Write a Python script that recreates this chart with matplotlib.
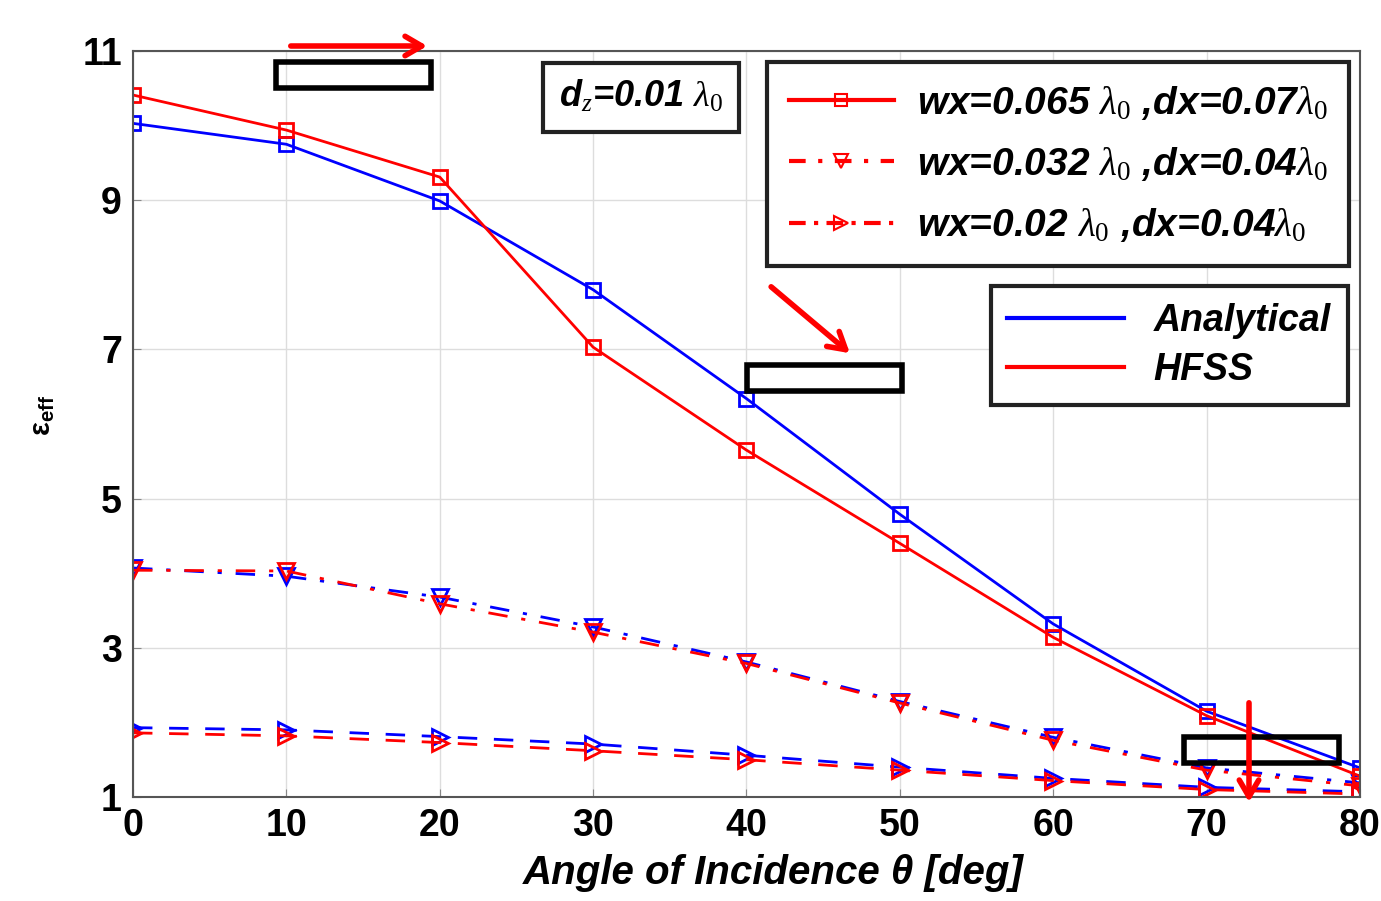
import numpy as np
import matplotlib
matplotlib.use("Agg")
import matplotlib.pyplot as plt
from matplotlib.lines import Line2D
from matplotlib.patches import Rectangle, FancyArrowPatch

plt.rcParams['font.family'] = ['Liberation Sans', 'DejaVu Sans']
plt.rcParams['mathtext.fontset'] = 'custom'
plt.rcParams['mathtext.rm'] = 'Liberation Serif'
plt.rcParams['mathtext.it'] = 'Liberation Serif:italic'
plt.rcParams['mathtext.bf'] = 'Liberation Sans:bold'

angle = [0, 10, 20, 30, 40, 50, 60, 70, 80]

# wx=0.065, dx=0.07 (squares, solid)
ana_sq = [10.03, 9.75, 8.99, 7.80, 6.34, 4.79, 3.32, 2.15, 1.39]
hfss_sq = [10.41, 9.94, 9.31, 7.03, 5.65, 4.40, 3.14, 2.09, 1.28]
# wx=0.032, dx=0.04 (down triangles, dash-dot)
ana_tri = [4.07, 3.96, 3.68, 3.28, 2.81, 2.28, 1.80, 1.39, 1.19]
hfss_tri = [4.04, 4.03, 3.59, 3.21, 2.79, 2.26, 1.76, 1.36, 1.15]
# wx=0.02, dx=0.04 (right triangles, dashed)
ana_rt = [1.93, 1.90, 1.81, 1.71, 1.56, 1.40, 1.25, 1.13, 1.07]
hfss_rt = [1.86, 1.82, 1.73, 1.62, 1.50, 1.36, 1.22, 1.10, 1.04]

lw = 2.0
ms = 10
dashdot = (0, (7, 5, 1.5, 5))
dashed = (0, (7, 6))

fig = plt.figure(figsize=(13.81, 9.01), dpi=100)
ax = fig.add_axes([0.0963, 0.1154, 0.8885, 0.828])

ax.plot(angle, ana_sq, color='blue', lw=lw, marker='s', ms=ms, mfc='none', mew=2)
ax.plot(angle, ana_tri, color='blue', lw=lw, ls=dashdot, marker='v', ms=ms + 2, mfc='none', mew=2)
ax.plot(angle, ana_rt, color='blue', lw=lw, ls=dashed, marker='>', ms=ms + 2, mfc='none', mew=2)
ax.plot(angle, hfss_sq, color='red', lw=lw, marker='s', ms=ms, mfc='none', mew=2)
ax.plot(angle, hfss_tri, color='red', lw=lw, ls=dashdot, marker='v', ms=ms + 2, mfc='none', mew=2)
ax.plot(angle, hfss_rt, color='red', lw=lw, ls=dashed, marker='>', ms=ms + 2, mfc='none', mew=2)

ax.set_xlim(0, 80)
ax.set_ylim(1, 11)
ax.set_xticks(range(0, 81, 10))
ax.set_yticks([1, 3, 5, 7, 9, 11])
ax.tick_params(direction='in', length=6, color='#888888', labelsize=27, pad=8)
for lab in ax.get_xticklabels() + ax.get_yticklabels():
    lab.set_fontweight('bold')
ax.grid(color='#dddddd', lw=1)
for s in ax.spines.values():
    s.set_color('#555555')
    s.set_linewidth(1.5)

ax.set_xlabel("Angle of Incidence θ [deg]", fontsize=29, fontweight='bold', fontstyle='italic')
ax.xaxis.set_label_coords(0.522, -0.076)
ax.set_ylabel(r"$\mathbf{\varepsilon_{eff}}$", fontsize=21)
ax.yaxis.set_label_coords(-0.062, 0.512)

# legend for geometries
h1 = [Line2D([], [], color='red', lw=3, marker='s', ms=9, mfc='none', mew=1.5),
      Line2D([], [], color='red', lw=3, ls=(0, (4, 3, 1, 3)), marker='v', ms=10, mfc='none', mew=1.5),
      Line2D([], [], color='red', lw=3, ls=(0, (4, 2, 1, 2)), marker='>', ms=10, mfc='none', mew=1.5)]
l1 = [r"wx=0.065 $\lambda_0$ ,dx=0.07$\lambda_0$",
      r"wx=0.032 $\lambda_0$ ,dx=0.04$\lambda_0$",
      r"wx=0.02 $\lambda_0$ ,dx=0.04$\lambda_0$"]
leg1 = ax.legend(h1, l1, loc='upper right', bbox_to_anchor=(0.991, 0.985), borderaxespad=0,
                 prop={'size': 28, 'weight': 'bold', 'style': 'italic'},
                 fancybox=False, edgecolor='#222222', framealpha=1,
                 handlelength=2.7, handletextpad=0.6, labelspacing=0.6, borderpad=0.55)
leg1.get_frame().set_linewidth(3)
ax.add_artist(leg1)

h2 = [Line2D([], [], color='blue', lw=3), Line2D([], [], color='red', lw=3)]
leg2 = ax.legend(h2, ["Analytical", "HFSS"], loc='upper right', bbox_to_anchor=(0.990, 0.685),
                 borderaxespad=0, prop={'size': 27, 'weight': 'bold', 'style': 'italic'},
                 fancybox=False, edgecolor='#222222', framealpha=1,
                 handlelength=3.1, labelspacing=0.35, borderpad=0.45)
leg2.get_frame().set_linewidth(3)

ax.text(0.414, 0.938, r"d$_z$=0.01 $\lambda_0$", transform=ax.transAxes, ha='center', va='center',
        fontsize=26, fontweight='bold', fontstyle='italic',
        bbox=dict(facecolor='white', edgecolor='#222222', lw=3, boxstyle='square,pad=0.45'))

# overlaid highlight boxes and arrows
W, H = 1381.0, 901.0
for (x0, y0, x1, y1) in [(276, 62, 431, 88), (747, 365, 902, 391), (1184, 737, 1339, 763)]:
    fig.add_artist(Rectangle((x0 / W, 1 - y1 / H), (x1 - x0) / W, (y1 - y0) / H,
                             transform=fig.transFigure, fill=False, edgecolor='black', lw=4))
for (xa, ya, xb, yb) in [(288, 46, 430, 46), (769, 285, 852, 355), (1249, 700, 1249, 805)]:
    fig.add_artist(FancyArrowPatch((xa / W, 1 - ya / H), (xb / W, 1 - yb / H),
                                   transform=fig.transFigure, arrowstyle='->,head_length=12,head_width=7',
                                   color='red', lw=4, mutation_scale=1))

fig.savefig("out.png", dpi=100)
